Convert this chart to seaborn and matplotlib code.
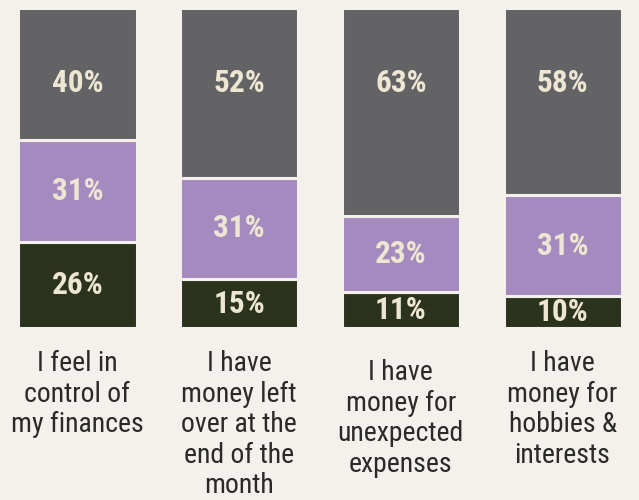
import os
import matplotlib
matplotlib.use("Agg")
import matplotlib.pyplot as plt
import matplotlib.font_manager as fm
import seaborn as sns
import pandas as pd
import numpy as np

categories = [
    "I feel in\ncontrol of\nmy finances",
    "I have\nmoney left\nover at the\nend of the\nmonth",
    "I have\nmoney for\nunexpected\nexpenses",
    "I have\nmoney for\nhobbies &\ninterests",
]
bottom_vals = [26, 15, 11, 10]   # dark green
middle_vals = [31, 31, 23, 31]   # purple
top_vals = [40, 52, 63, 58]      # gray

BG = "#f4f1ec"
C_DARK = "#2b331d"
C_PURP = "#a48abf"
C_GRAY = "#636265"
C_TXT = "#ede6d2"
C_LAB = "#2a2a2a"

sns.set_theme(style="white")
plt.rcParams["font.family"] = ["DejaVu Sans"]

# locate a condensed font file if available
files = []
for d in ["/usr/share/fonts", "/usr/local/share/fonts", os.path.expanduser("~/.fonts"),
          os.path.join(matplotlib.get_data_path(), "fonts")]:
    for root, _, fs in os.walk(d):
        for f in fs:
            if f.lower().endswith((".ttf", ".otf")):
                files.append(os.path.join(root, f))
names = {os.path.basename(p).lower(): p for p in files}

def pick(cands):
    for c in cands:
        if c in names:
            return fm.FontProperties(fname=names[c])
    return None

reg = pick(["liberationsansnarrow-regular.ttf", "robotocondensed-regular.ttf",
            "opensans-condensedregular.ttf", "dejavusanscondensed.ttf"])
bold = pick(["liberationsansnarrow-bold.ttf", "robotocondensed-bold.ttf",
             "opensans-condensedbold.ttf", "dejavusanscondensed-bold.ttf"])
if reg is None:
    reg = fm.FontProperties(family="DejaVu Sans", stretch="condensed")
if bold is None:
    bold = fm.FontProperties(family="DejaVu Sans", stretch="condensed", weight="bold")

fig = plt.figure(figsize=(6.39, 5.0), dpi=100)
fig.patch.set_facecolor(BG)
ax = fig.add_axes([0, 172 / 500, 1, 320 / 500])
ax.set_facecolor(BG)

keys = [f"c{i}" for i in range(len(categories))]
b = np.array(bottom_vals, float)
m = np.array(middle_vals, float)
t = np.array(top_vals, float)
tot = b + m + t
bn, mn, tn = b / tot * 100, m / tot * 100, t / tot * 100

df = pd.DataFrame({"cat": keys, "b": bn, "m": mn, "t": tn})
w = 0.73
lw = 2.2
sns.barplot(data=df, x="cat", y="b", color=C_DARK, saturation=1, width=w,
            edgecolor=BG, linewidth=lw, ax=ax)
sns.barplot(data=df, x="cat", y="m", color=C_PURP, saturation=1, width=w,
            edgecolor=BG, linewidth=lw, bottom=bn, ax=ax)
sns.barplot(data=df, x="cat", y="t", color=C_GRAY, saturation=1, width=w,
            edgecolor=BG, linewidth=lw, bottom=bn + mn, ax=ax)

ax.set_xlim((0 - 77.5) / 161.67, (639 - 77.5) / 161.67)
ax.set_ylim(0, 100)
ax.axis("off")

pfs = 22.5
pct_texts = []
for i in range(len(categories)):
    pct_texts.append(ax.text(i, bn[i] / 2, f"{bottom_vals[i]}%", ha="center",
                             va="center", color=C_TXT, fontproperties=bold))
    pct_texts.append(ax.text(i, bn[i] + mn[i] / 2, f"{middle_vals[i]}%", ha="center",
                             va="center", color=C_TXT, fontproperties=bold))
    pct_texts.append(ax.text(i, 76.5, f"{top_vals[i]}%", ha="center",
                             va="center", color=C_TXT, fontproperties=bold))
for txt in pct_texts:
    txt.set_fontsize(pfs)

label_tops = [350, 350, 359, 350]  # pixel rows from top
for i, lab in enumerate(categories):
    y = (328 - label_tops[i]) / 320 * 100
    txt = ax.text(i, y, lab, ha="center", va="top", color=C_LAB,
                  fontproperties=reg, linespacing=1.17, clip_on=False)
    txt.set_fontsize(20)

fig.savefig("out.png", dpi=100, facecolor=BG)
